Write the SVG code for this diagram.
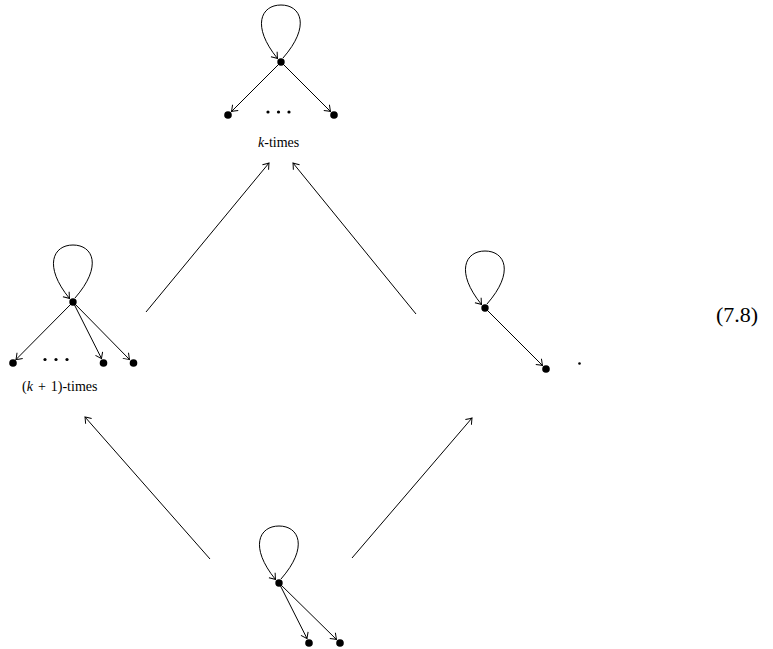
<svg xmlns="http://www.w3.org/2000/svg" width="773" height="649" viewBox="0 0 773 649">
<style>
.e{fill:none;stroke:#000;stroke-width:1;marker-end:url(#ah)}
.n{fill:#000}
.t{font-family:"Liberation Serif",serif;font-size:14px;fill:#000}
</style>
<defs>
<marker id="ah" markerUnits="userSpaceOnUse" orient="auto" refX="0" refY="0" markerWidth="12" markerHeight="12" viewBox="-7 -6 9 12" overflow="visible">
<path d="M -5.5,-4 Q -1.5,-1 0,0 Q -1.5,1 -5.5,4" fill="none" stroke="#000" stroke-width="1"/>
</marker>
</defs>
<rect width="773" height="649" fill="#fff"/>
<g id="top">
<path class="e" transform="translate(281,62)" d="M 2,-4 C 30,-36 20,-57 0,-57 C -20,-57 -30,-36 -3.5,-3.5"/>
<path class="e" d="M 281,62 L 231.5,111.5"/>
<path class="e" d="M 281,62 L 330.5,111.5"/>
<circle class="n" cx="281" cy="62" r="3.7"/>
<circle class="n" cx="228" cy="115" r="3.8"/>
<circle class="n" cx="334" cy="115" r="3.8"/>
<circle class="n" cx="268" cy="112" r="1.6"/>
<circle class="n" cx="278.5" cy="112" r="1.6"/>
<circle class="n" cx="289" cy="112" r="1.6"/>
<text class="t" x="258" y="146.5"><tspan font-style="italic">k</tspan>-times</text>
</g>
<g id="left">
<path class="e" transform="translate(73,302)" d="M 2,-4 C 30,-36 20,-57 0,-57 C -20,-57 -30,-36 -3.5,-3.5"/>
<path class="e" d="M 73,302 L 16,359.5"/>
<path class="e" d="M 73,302 L 101.5,358.5"/>
<path class="e" d="M 73,302 L 129.5,359.5"/>
<circle class="n" cx="73" cy="302" r="3.7"/>
<circle class="n" cx="13" cy="363" r="3.8"/>
<circle class="n" cx="103.5" cy="363" r="3.8"/>
<circle class="n" cx="133.5" cy="363" r="3.8"/>
<circle class="n" cx="45" cy="359.5" r="1.6"/>
<circle class="n" cx="56" cy="359.5" r="1.6"/>
<circle class="n" cx="67" cy="359.5" r="1.6"/>
<text class="t" x="22" y="391" style="word-spacing:1.5px">(<tspan font-style="italic">k</tspan> + 1)-times</text>
</g>
<g id="right">
<path class="e" transform="translate(485,308)" d="M 2,-4 C 30,-36 20,-57 0,-57 C -20,-57 -30,-36 -3.5,-3.5"/>
<path class="e" d="M 485,308 L 542.5,365.5"/>
<circle class="n" cx="485" cy="308" r="3.7"/>
<circle class="n" cx="546" cy="369" r="3.8"/>
<circle class="n" cx="579.5" cy="363.5" r="1.3"/>
</g>
<g id="bottom">
<path class="e" transform="translate(279,583)" d="M 2,-4 C 30,-36 20,-57 0,-57 C -20,-57 -30,-36 -3.5,-3.5"/>
<path class="e" d="M 279,583 L 307,638.5"/>
<path class="e" d="M 279,583 L 336.5,639.5"/>
<circle class="n" cx="279" cy="583" r="3.7"/>
<circle class="n" cx="309" cy="643" r="3.8"/>
<circle class="n" cx="340" cy="643" r="3.8"/>
</g>
<g id="connectors">
<path class="e" d="M 146,312 L 269,163"/>
<path class="e" d="M 416,314 L 293,163"/>
<path class="e" d="M 210,559 L 85,417"/>
<path class="e" d="M 352,558 L 472,418"/>
</g>
<text id="eqnum" x="716" y="322" font-family="Liberation Serif, serif" font-size="22" fill="#000">(7.8)</text>
</svg>
